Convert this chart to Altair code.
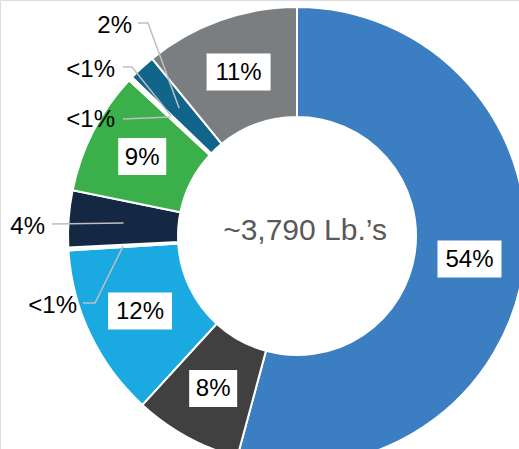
import math
import altair as alt
import pandas as pd

# ---- data ----
labels = ["54%", "8%", "12%", "<1%", "4%", "9%", "<1%", "<1%", "2%", "11%"]
values = [54.2, 7.6, 12.2, 0.2, 4.0, 8.7, 0.15, 0.15, 1.9, 10.9]
colors = ["#3B7EC2", "#404040", "#1AA9E0", "#F4F8FB", "#152843",
          "#3BAF4A", "#F4F8F4", "#F4F6F8", "#12658A", "#7A7E80"]
inside = [True, True, True, False, False, True, False, False, False, True]
center_text = "~3,790 Lb.\u2019s"

# ---- layout ----
W, H = 519, 449
CX, CY = 297, 236
R_IN, R_OUT = 119, 229
R_MID = (R_IN + R_OUT) / 2
BOX_H = 37
FONT = "Liberation Sans"
# outer label layout: index -> (text right x, text y, line points before tip)
outer_layout = {
    3: (77, 305, [(83, 303), (95, 303)]),
    4: (45, 226, [(52, 224)]),
    6: (115, 119, [(123, 119)]),
    7: (115, 69, [(123, 67), (132, 67)]),
    8: (132, 25, [(138, 23), (148, 23)]),
}

total = sum(values)
rows = []
cum = 0.0
for i, (lab, v, c, ins) in enumerate(zip(labels, values, colors, inside)):
    mid = (cum + v / 2) / total * 2 * math.pi
    cum += v
    rows.append(dict(idx=i, label=lab, value=v, color=c, inside=ins,
                     mx=CX + R_MID * math.sin(mid), my=CY - R_MID * math.cos(mid)))
df = pd.DataFrame(rows)

din = df[df.inside].copy()
din["w"] = din.label.str.len() * 16 + 16
din["x1"] = din.mx - din.w / 2
din["x2"] = din.mx + din.w / 2
din["y1"] = din.my - BOX_H / 2
din["y2"] = din.my + BOX_H / 2

out_text = []
out_lines = []
for i, (tx, ty, pts) in outer_layout.items():
    r = df.iloc[i]
    out_text.append(dict(label=r.label, x=tx, y=ty))
    allpts = pts + [(r.mx, r.my)]
    for k, (px, py) in enumerate(allpts):
        out_lines.append(dict(g=i, k=k, x=px, y=py))
dtext = pd.DataFrame(out_text)
dlines = pd.DataFrame(out_lines)

arcs = alt.Chart(df).mark_arc(innerRadius=R_IN, outerRadius=R_OUT, stroke="white", strokeWidth=2).encode(
    theta=alt.Theta("value:Q", stack=True),
    color=alt.Color("color:N", scale=None),
    order=alt.Order("idx:Q"),
    x=alt.value(CX), y=alt.value(CY),
)

boxes = alt.Chart(din).mark_rect(color="white").encode(
    x=alt.X("x1:Q", scale=None), x2="x2:Q",
    y=alt.Y("y1:Q", scale=None), y2="y2:Q",
)
in_text = alt.Chart(din).mark_text(font=FONT, fontSize=24, color="#000000", baseline="middle", align="center", dy=1).encode(
    x=alt.X("mx:Q", scale=None), y=alt.Y("my:Q", scale=None), text="label:N"
)

lines = alt.Chart(dlines).mark_line(color="#BFBFBF", strokeWidth=1.5).encode(
    x=alt.X("x:Q", scale=None), y=alt.Y("y:Q", scale=None),
    detail="g:N", order="k:Q",
)
out_lbl = alt.Chart(dtext).mark_text(font=FONT, fontSize=24, color="#000000", baseline="middle", align="right", dy=1).encode(
    x=alt.X("x:Q", scale=None), y=alt.Y("y:Q", scale=None), text="label:N"
)

ctr = alt.Chart(pd.DataFrame({"t": [center_text]})).mark_text(
    font=FONT, fontSize=30, color="#595959", baseline="middle", align="center", fontWeight=500
).encode(x=alt.value(305), y=alt.value(231), text="t:N")

chart = alt.layer(arcs, lines, boxes, in_text, out_lbl, ctr).properties(
    width=W, height=H, padding=0, autosize=alt.AutoSizeParams(type="none")
).configure_view(stroke=None).configure(background="white")

chart.save("out.html", embed_options={"renderer": "svg", "actions": False})
